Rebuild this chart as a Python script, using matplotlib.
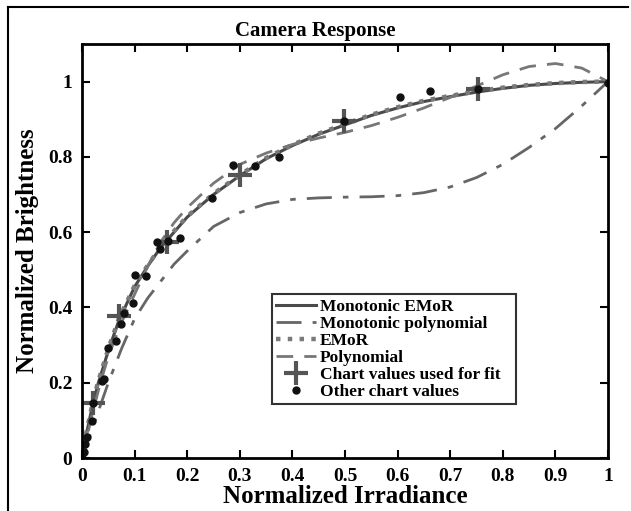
import matplotlib.pyplot as plt
from matplotlib.lines import Line2D

plt.rcParams['font.family'] = ['Liberation Serif', 'DejaVu Serif']
plt.rcParams['font.weight'] = 'bold'

# curves
emor_x = [0, 0.005, 0.01, 0.02, 0.03, 0.05, 0.07, 0.1, 0.125, 0.15, 0.175, 0.2, 0.25, 0.3, 0.35, 0.4,
          0.45, 0.5, 0.55, 0.6, 0.65, 0.7, 0.75, 0.8, 0.85, 0.9, 0.95, 1.0]
mono_emor_y = [0, 0.04, 0.075, 0.14, 0.195, 0.285, 0.365, 0.455, 0.51, 0.56, 0.6, 0.64, 0.70, 0.75, 0.795,
               0.83, 0.86, 0.885, 0.91, 0.93, 0.947, 0.96, 0.972, 0.982, 0.99, 0.995, 0.998, 1.0]
emor_y = [0, 0.045, 0.08, 0.145, 0.2, 0.29, 0.37, 0.458, 0.512, 0.562, 0.603, 0.642, 0.702, 0.752, 0.797,
          0.832, 0.862, 0.887, 0.912, 0.932, 0.949, 0.962, 0.974, 0.984, 0.991, 0.996, 0.999, 1.0]

mono_poly_x = [0, 0.025, 0.05, 0.075, 0.1, 0.125, 0.15, 0.175, 0.2, 0.25, 0.3, 0.35, 0.4, 0.45, 0.5,
               0.55, 0.6, 0.65, 0.7, 0.75, 0.8, 0.85, 0.9, 0.95, 1.0]
mono_poly_y = [0, 0.1, 0.2, 0.29, 0.37, 0.425, 0.47, 0.515, 0.55, 0.615, 0.652, 0.675, 0.687, 0.691, 0.693,
               0.694, 0.697, 0.705, 0.72, 0.745, 0.78, 0.825, 0.875, 0.935, 1.0]

poly_x = [0, 0.01, 0.02, 0.035, 0.05, 0.075, 0.1, 0.125, 0.15, 0.175, 0.2, 0.25, 0.3, 0.35, 0.4, 0.45,
          0.5, 0.55, 0.6, 0.65, 0.7, 0.75, 0.8, 0.85, 0.9, 0.95, 1.0]
poly_y = [0, 0.06, 0.12, 0.2, 0.27, 0.36, 0.435, 0.51, 0.575, 0.625, 0.665, 0.73, 0.78, 0.81, 0.833, 0.85,
          0.865, 0.883, 0.905, 0.93, 0.958, 0.988, 1.018, 1.04, 1.048, 1.036, 1.0]

# chart values
fit_x = [0.021, 0.07, 0.161, 0.3, 0.498, 0.753]
fit_y = [0.147, 0.378, 0.573, 0.752, 0.896, 0.979]

other_x = [0, 0.004, 0.006, 0.01, 0.019, 0.021, 0.038, 0.042, 0.049, 0.064, 0.074, 0.08, 0.097, 0.101,
           0.122, 0.143, 0.148, 0.163, 0.186, 0.247, 0.287, 0.329, 0.375, 0.498, 0.605, 0.662, 0.753, 1.0]
other_y = [0, 0.016, 0.037, 0.056, 0.099, 0.147, 0.205, 0.21, 0.293, 0.312, 0.355, 0.386, 0.413, 0.487,
           0.484, 0.573, 0.555, 0.576, 0.584, 0.691, 0.779, 0.776, 0.8, 0.896, 0.96, 0.976, 0.979, 0.997]

xticks = [0, 0.1, 0.2, 0.3, 0.4, 0.5, 0.6, 0.7, 0.8, 0.9, 1]
xtick_labels = ['0', '0.1', '0.2', '0.3', '0.4', '0.5', '0.6', '0.7', '0.8', '0.9', '1']
yticks = [0, 0.2, 0.4, 0.6, 0.8, 1]
ytick_labels = ['0', '0.2', '0.4', '0.6', '0.8', '1']

fig = plt.figure(figsize=(6.31, 5.11), dpi=100)
ax = fig.add_axes([0.130, 0.1037, 0.8335, 0.8103])

ax.plot(emor_x, mono_emor_y, '-', color='#4a4a4a', lw=2.2, label='Monotonic EMoR')
ax.plot(mono_poly_x, mono_poly_y, color='#666666', lw=2, dashes=[9, 4, 2, 4], label='Monotonic polynomial')
ax.plot(emor_x, emor_y, ':', color='#7a7a7a', lw=3.2, label='EMoR')
ax.plot(poly_x, poly_y, color='#777777', lw=2, dashes=[6, 4], label='Polynomial')
ax.plot(fit_x, fit_y, '+', color='#555555', ms=17, mew=3, label='Chart values used for fit')
ax.plot(other_x, other_y, 'o', color='#111111', ms=5, label='Other chart values')

ax.set_xlim(0, 1)
ax.set_ylim(0, 1.1)
ax.set_xticks(xticks)
ax.set_xticklabels(xtick_labels)
ax.set_yticks(yticks)
ax.set_yticklabels(ytick_labels)
ax.tick_params(direction='in', length=6, width=1.5, top=True, right=True, labelsize=14, pad=7)
for s in ax.spines.values():
    s.set_linewidth(2)

fig.text(0.5, 0.94, 'Camera Response', ha='center', va='center', fontsize=15, fontweight='bold')
ax.set_xlabel('Normalized Irradiance', fontsize=18, fontweight='bold', labelpad=0)
ax.set_ylabel('Normalized Brightness', fontsize=18, fontweight='bold', labelpad=6)

leg = ax.legend(loc='lower left', bbox_to_anchor=(0.361, 0.13, 0.464, 0.28), mode='expand',
                fontsize=12.5, frameon=True, fancybox=False, handlelength=2.3, handletextpad=0.2,
                labelspacing=0.05, borderpad=0.25, borderaxespad=0)
leg.get_frame().set_edgecolor('black')
leg.get_frame().set_linewidth(1.5)

# outer frame of the figure
fig.add_artist(Line2D([0.013, 0.013], [0, 0.986], color='black', lw=1.5))
fig.add_artist(Line2D([0.013, 0.995], [0.986, 0.986], color='black', lw=1.5))

plt.savefig('out.png', dpi=100)
